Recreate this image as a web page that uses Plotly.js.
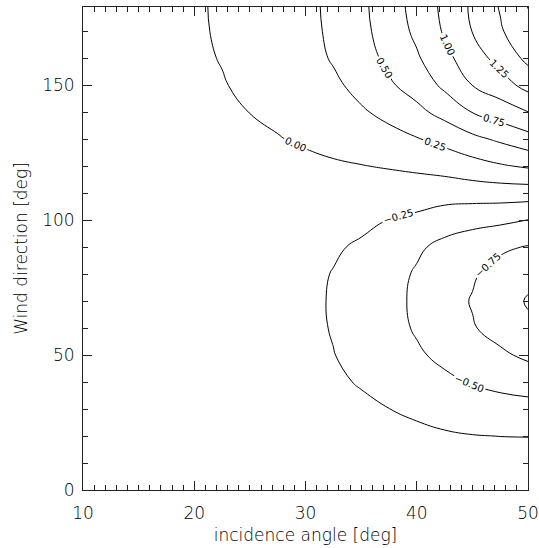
<!DOCTYPE html>
<html>
<head>
<meta charset="utf-8">
<script src="https://cdn.plot.ly/plotly-3.0.1.min.js"></script>
<style>html,body{margin:0;padding:0;background:#fff;}#chart{width:539px;height:548px;}</style>
</head>
<body>
<div id="chart"></div>
<script>
// incidence angle columns [deg]
var incidence = [10, 15, 20, 22.5, 25, 27.5, 30, 32.5, 35, 37.5, 40, 42.5, 45, 47.5, 50];
// wind direction rows [deg]
var direction = [0, 10, 20, 30, 40, 50, 60, 70, 80, 90, 100, 110, 120, 130, 140, 150, 160, 170, 180];

// values, one array per incidence angle (along direction)
var inc10   = [-0.06,-0.06,-0.061,-0.062,-0.064,-0.065,-0.066,-0.066,-0.066,-0.065,-0.064,-0.062,-0.06,-0.058,-0.056,-0.054,-0.053,-0.052,-0.052];
var inc15   = [-0.07,-0.071,-0.073,-0.076,-0.079,-0.081,-0.082,-0.082,-0.081,-0.079,-0.076,-0.072,-0.067,-0.061,-0.055,-0.05,-0.046,-0.044,-0.043];
var inc20   = [-0.08,-0.082,-0.086,-0.09,-0.095,-0.098,-0.10,-0.10,-0.098,-0.094,-0.087,-0.078,-0.066,-0.052,-0.037,-0.024,-0.014,-0.009,-0.008];
var inc22_5 = [-0.085,-0.087,-0.092,-0.098,-0.104,-0.108,-0.11,-0.11,-0.107,-0.101,-0.091,-0.078,-0.063,-0.045,-0.025,-0.005,0.0035,0.0071,0.0085];
var inc25   = [-0.09,-0.093,-0.10,-0.11,-0.12,-0.126,-0.129,-0.13,-0.1255,-0.115,-0.099,-0.078,-0.053,-0.026,0.0013,0.017,0.0305,0.039,0.0425];
var inc27_5 = [-0.095,-0.10,-0.11,-0.125,-0.14,-0.152,-0.158,-0.16,-0.153,-0.137,-0.113,-0.082,-0.046,-0.007,0.027,0.056,0.080,0.095,0.10];
var inc30   = [-0.10,-0.105,-0.125,-0.15,-0.175,-0.193,-0.202,-0.205,-0.198,-0.17,-0.134,-0.088,-0.035,0.019,0.072,0.118,0.155,0.178,0.186];
var inc32_5 = [-0.10,-0.11,-0.14,-0.185,-0.222,-0.245,-0.261,-0.266,-0.258,-0.225,-0.162,-0.096,-0.021,0.053,0.128,0.202,0.272,0.297,0.308];
var inc35   = [-0.10,-0.115,-0.16,-0.215,-0.263,-0.308,-0.34,-0.352,-0.332,-0.279,-0.20,-0.102,-0.007,0.106,0.22,0.325,0.397,0.437,0.451];
var inc37_5 = [-0.10,-0.12,-0.18,-0.248,-0.321,-0.383,-0.424,-0.439,-0.414,-0.347,-0.255,-0.122,0.015,0.166,0.316,0.467,0.555,0.605,0.633];
var inc40   = [-0.10,-0.125,-0.20,-0.29,-0.38,-0.47,-0.522,-0.534,-0.525,-0.462,-0.30,-0.133,0.045,0.235,0.437,0.60,0.72,0.80,0.837];
var inc42_5 = [-0.10,-0.13,-0.225,-0.337,-0.455,-0.551,-0.622,-0.649,-0.62,-0.565,-0.385,-0.142,0.086,0.323,0.58,0.80,0.93,1.025,1.058];
var inc45   = [-0.10,-0.14,-0.243,-0.375,-0.515,-0.641,-0.732,-0.765,-0.722,-0.63,-0.43,-0.137,0.153,0.4375,0.755,1.001,1.14,1.255,1.288];
var inc47_5 = [-0.10,-0.14,-0.252,-0.40,-0.565,-0.71,-0.834,-0.89,-0.838,-0.71,-0.454,-0.133,0.223,0.54,0.871,1.137,1.33,1.47,1.523];
var inc50   = [-0.10,-0.14,-0.255,-0.415,-0.604,-0.795,-0.957,-1.02,-0.94,-0.765,-0.505,-0.134,0.278,0.656,0.995,1.334,1.56,1.70,1.76];

var columns = [inc10, inc15, inc20, inc22_5, inc25, inc27_5, inc30, inc32_5, inc35, inc37_5, inc40, inc42_5, inc45, inc47_5, inc50];

var fontFam = 'DejaVu Sans, Liberation Sans, sans-serif';
var textColor = '#000';

var trace = {
  type: 'contour',
  x: incidence,
  y: direction,
  z: columns,
  transpose: true,
  showscale: false,
  hoverinfo: 'skip',
  colorscale: [[0, '#000'], [1, '#000']],
  contours: {
    coloring: 'lines',
    start: -1.0,
    end: 1.75,
    size: 0.25,
    showlabels: true,
    labelformat: '.2f',
    labelfont: {family: fontFam, size: 10, color: '#000'}
  },
  line: {width: 1, smoothing: 1.3, color: '#000'}
};

var axisCommon = {
  showgrid: false,
  zeroline: false,
  showline: true,
  linecolor: '#222',
  linewidth: 1,
  mirror: 'ticks',
  ticks: 'inside',
  ticklen: 9,
  tickwidth: 1,
  tickcolor: '#222',
  tickfont: {family: fontFam, size: 17, color: textColor, weight: 200}
};

var layout = {
  width: 539,
  height: 548,
  margin: {l: 83, r: 11, t: 7, b: 58},
  paper_bgcolor: '#fff',
  plot_bgcolor: '#fff',
  showlegend: false,
  xaxis: Object.assign({}, axisCommon, {
    range: [10, 50],
    dtick: 10,
    tick0: 10,
    ticklabelstandoff: 8,
    minor: {dtick: 1, ticks: 'inside', ticklen: 5, tickcolor: '#222', tickwidth: 1},
    title: {text: 'incidence angle [deg]', font: {family: fontFam, size: 17, color: textColor, weight: 200}, standoff: 6}
  }),
  yaxis: Object.assign({}, axisCommon, {
    range: [0, 179],
    dtick: 50,
    tick0: 0,
    ticklabelstandoff: 4,
    minor: {dtick: 10, ticks: 'inside', ticklen: 5, tickcolor: '#222', tickwidth: 1},
    title: {text: 'Wind direction [deg]', font: {family: fontFam, size: 17, color: textColor, weight: 200}, standoff: 10}
  })
};

Plotly.newPlot('chart', [trace], layout, {displayModeBar: false, staticPlot: true});
</script>
</body>
</html>
